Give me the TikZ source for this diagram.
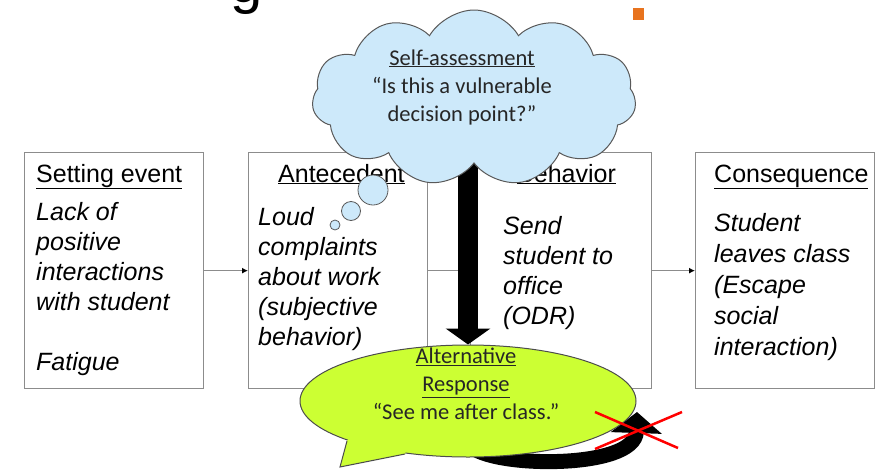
\documentclass[tikz,border=0pt]{standalone}
\usepackage{fontspec}
\setmainfont{Liberation Sans}
\newfontfamily\calib{Carlito}
\usepackage{tikz}
\usetikzlibrary{shapes.geometric,shapes.symbols,arrows.meta}
\usepackage{xcolor}
\definecolor{cloudblue}{HTML}{CDE9FA}
\definecolor{bubblegreen}{HTML}{CCFF33}
\definecolor{boxgray}{HTML}{8C8C8C}
\definecolor{titleorange}{HTML}{E8731E}
\pgfdeclarelayer{front}
\pgfsetlayers{main,front}

\begin{document}
\begin{tikzpicture}[x=1pt,y=-1pt,
	box/.style={draw=boxgray,line width=1.3pt,minimum width=179pt,minimum height=236pt,inner sep=0pt,anchor=north west},
	title/.style={anchor=base west,inner sep=0pt,font=\fontsize{25}{30}\selectfont},
	body/.style={anchor=base west,inner sep=0pt,font=\fontsize{25}{30}\selectfont\itshape},
	link/.style={draw=boxgray,line width=1.2pt,-{Latex[black,length=6pt,width=6pt]}},
	ctext/.style={align=center,inner sep=0pt,font=\calib\fontsize{22.5}{28}\selectfont,text=black!85},
	puff/.style={circle,draw=black!65,fill=cloudblue,line width=0.8pt,inner sep=0pt},
	redx/.style={draw=red,line width=2.5pt}]
			\useasboundingbox (0,0) rectangle (891,474);
			\clip (0,0) rectangle (891,474);
			\begin{pgfonlayer}{front}
				\node[ellipse,draw=black!70,fill=bubblegreen,line width=1pt,minimum width=336pt,minimum height=112pt,inner sep=0pt] (alt) at (468,401) {};
				\fill[bubblegreen] (351,436) -- (347,441) -- (340,467) -- (405,454) -- (407,448) -- cycle;
				\draw[draw=black!70,line width=1pt] (347,441) -- (340,467) -- (405,454);
				\node[ctext] (alttext) at (466,384) {\underline{Alternative}\\\underline{Response}\\“See me after class.”};
				\node[cloud,cloud puffs=11,cloud puff arc=120,aspect=1.85,draw=black!65,fill=cloudblue,line width=1pt,minimum width=324pt,minimum height=176pt,inner sep=0pt] (cloud) at (474,98) {};
				\node[ctext] (selftext) at (462,87) {\underline{Self-assessment}\\“Is this a vulnerable\\decision point?”};
				\node[puff,minimum size=30pt] (dot1) at (373,190) {};
				\node[puff,minimum size=19pt] (dot2) at (351,211) {};
				\node[puff,minimum size=10pt] (dot3) at (335,225) {};
				\coordinate (crossed) at (637,412);
				\draw[redx] (595,412) -- (678,448);
				\draw[redx] (595,449) -- (682,412);
			\end{pgfonlayer}
			\node[box] (set) at (24,152) {};
			\node[box] (ante) at (248,152) {};
			\node[box,minimum width=181pt] (behav) at (470,152) {};
			\node[box] (conseq) at (695,152) {};
			\node[title] (settitle) at (36,182) {\underline{Setting event}};
			\node[title] (antetitle) at (278,182) {\underline{Antecedent}};
			\node[title] (behavtitle) at (517,182) {\underline{Behavior}};
			\node[title] (conseqtitle) at (714,182) {\underline{Consequence}};
			\foreach \Ligne [count=\i] in {{Lack of},{positive},{interactions},{with student},{},{Fatigue}}
				\node[body] (set-\i) at (36,190+30*\i) {\Ligne};
			\foreach \Ligne [count=\i] in {{Loud},{complaints},{about work},{(subjective},{behavior)}}
				\node[body] (ante-\i) at (258,195+30*\i) {\Ligne};
			\foreach \Ligne [count=\i] in {{Send},{student to},{office},{(ODR)}}
				\node[body] (behav-\i) at (503,204+30*\i) {\Ligne};
			\foreach \Ligne [count=\i] in {{Student},{leaves class},{(Escape},{social},{interaction)}}
				\node[body] (conseq-\i) at (714,200+31*\i) {\Ligne};
			\draw[link] (set) -- (ante);
			\draw[link] (ante) -- (behav);
			\draw[link] (behav) -- (conseq);
			\draw[line width=20pt,-{Triangle[width=44pt,length=16pt]}] (alt.north |- cloud.center) -- (alt.north);
			\draw[line width=15pt,-{Triangle[width=50pt,length=21pt]}] (alt.south) ++(2,-12) .. controls (490,468) and (635,470) .. (crossed);
			\node[inner sep=0pt,anchor=base,font=\fontsize{58}{58}\selectfont] (titleg) at (247,2) {g};
			\fill[titleorange] (633,8) rectangle (644,20);
		\end{tikzpicture}
\end{document}
